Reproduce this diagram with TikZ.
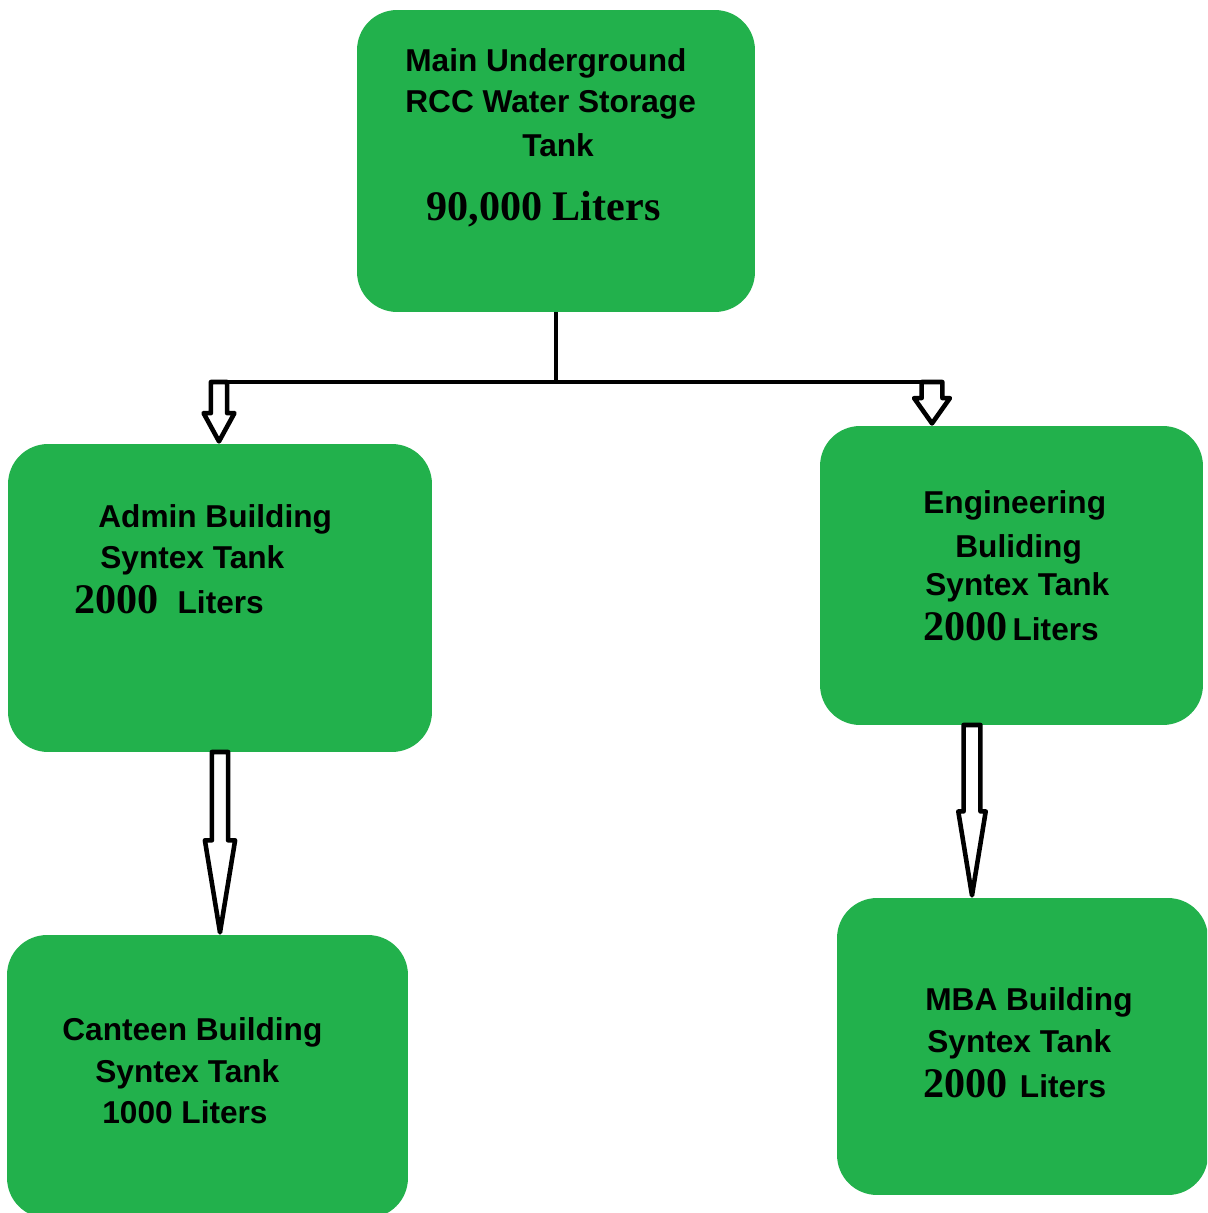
\documentclass[tikz,border=0pt]{standalone}
\usepackage{fontspec}
\setmainfont{Liberation Sans}
\newfontfamily\numfont{Liberation Serif}
\usetikzlibrary{calc}
\definecolor{boxgreen}{RGB}{34,177,76}
\newcommand\nm[1]{{\fontsize{24}{26}\numfont\bfseries #1}}
\newcommand\hollowarr[5]{%
  \draw[harrow] let \p1=(#1), \p2=(#2) in
    (\x1-#3,\y1) -- (\x1+#3,\y1) -- (\x1+#3,\y2+#5) -- (\x1+#4,\y2+#5)
    -- (\x1,\y2+1.5pt) -- (\x1-#4,\y2+#5) -- (\x1-#3,\y2+#5) -- cycle;}
\begin{document}
\begin{tikzpicture}[x=0.02cm,y=-0.02cm,
  box/.style={fill=boxgreen, rounded corners=0.8cm, inner sep=0pt, outer sep=0pt},
  lbl/.style={anchor=base west, inner sep=0pt, font=\fontsize{18}{20}\selectfont\bfseries, text=black},
  pipe/.style={line width=2.5pt, draw=black},
  harrow/.style={draw=black, fill=white, line width=2.6pt, line join=round}]
\useasboundingbox (0,0) rectangle (1207,1213);
\clip (0,0) rectangle (1207,1213);

% boxes
\node[box, minimum width=7.96cm, minimum height=6.04cm] (main) at (556,161) {};
\node[box, minimum width=8.48cm, minimum height=6.16cm] (admin) at (220,598) {};
\node[box, minimum width=7.66cm, minimum height=5.98cm] (eng) at (1011.5,575.5) {};
\node[box, minimum width=8.02cm, minimum height=5.66cm] (canteen) at (207.5,1076.5) {};
\node[box, minimum width=7.42cm, minimum height=5.94cm] (mba) at (1022.5,1046.5) {};

% pipes
\coordinate (j) at (556,382);
\coordinate (jl) at (219,382);
\coordinate (jr) at (932,382);
\coordinate (ex) at (972,0);
\draw[pipe] (main.south) -- (j);
\draw[pipe] (jl) -- (jr);

% hollow arrows
\hollowarr{jl}{admin.north}{4.6pt}{8.8pt}{17.6pt}
\hollowarr{jr}{eng.north}{5.9pt}{10.2pt}{15.9pt}
\hollowarr{admin.south}{canteen.north}{4.6pt}{8.6pt}{53.9pt}
\hollowarr{eng.south -| ex}{mba.north}{4.8pt}{7.8pt}{49.3pt}

% texts
\node[lbl] (m1) at (405,72) {Main Underground};
\node[lbl] (m2) at (405,113) {RCC Water Storage};
\node[lbl] (m3) at (522,157) {Tank};
\node[lbl] (m4) at (426,220) {\nm{90,000 Liters}};

\node[lbl] (a1) at (98,527) {Admin Building};
\node[lbl] (a2) at (100,568) {Syntex Tank};
\node[lbl] (a3) at (74,613) {\nm{2000}\hspace{10.8pt}Liters};

\node[lbl] (e1) at (923,513) {Engineering};
\node[lbl] (e2) at (955,557) {Buliding};
\node[lbl] (e3) at (925,595) {Syntex Tank};
\node[lbl] (e4) at (923,640) {\nm{2000}\hspace{2.8pt}Liters};

\node[lbl] (c1) at (62,1040) {Canteen Building};
\node[lbl] (c2) at (95,1082) {Syntex Tank};
\node[lbl] (c3) at (102,1123) {1000 Liters};

\node[lbl] (b1) at (925,1010) {MBA Building};
\node[lbl] (b2) at (927,1052) {Syntex Tank};
\node[lbl] (b3) at (923,1097) {\nm{2000}\hspace{7pt}Liters};
\end{tikzpicture}
\end{document}
